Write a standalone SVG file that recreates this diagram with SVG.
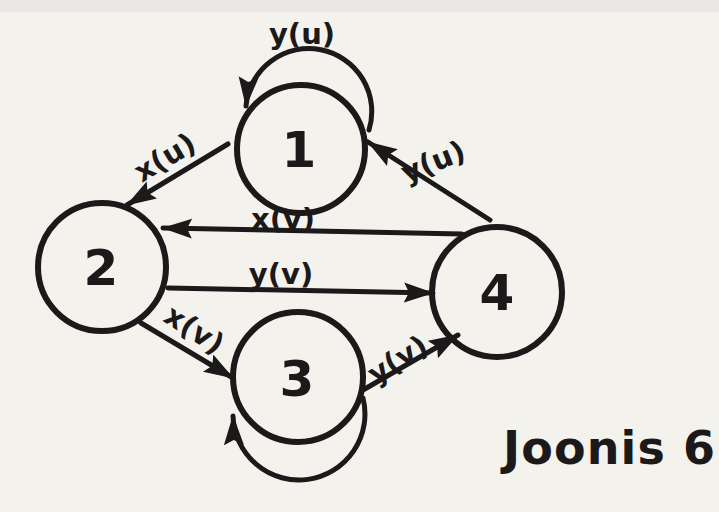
<svg xmlns="http://www.w3.org/2000/svg" width="719" height="512" viewBox="0 0 719 512">
<style>
.node{fill:none;stroke:#1b1919;stroke-width:6}
.edge{fill:none;stroke:#1b1919;stroke-width:5;stroke-linecap:round}
.num{font-family:"DejaVu Sans",sans-serif;font-weight:bold;font-size:50px;fill:#1b1919;text-anchor:middle}
.lbl{font-family:"DejaVu Sans",sans-serif;font-weight:bold;font-size:29px;fill:#1b1919;text-anchor:middle}
.cap{font-family:"DejaVu Sans",sans-serif;font-weight:bold;font-size:46px;fill:#1b1919}
</style>
<defs>
<marker id="ah" markerUnits="userSpaceOnUse" markerWidth="30" markerHeight="22" viewBox="0 0 30 22" refX="29" refY="11" orient="auto">
<path d="M0,1 L30,11 L0,21 L5,11 z" fill="#1b1919"/>
</marker>
</defs>
<rect x="0" y="0" width="719" height="512" fill="#f4f2ec"/>
<rect x="0" y="0" width="719" height="12" fill="#e9e8e5"/>
<g id="edges">
<path class="edge" d="M369 130 A63 63 0 1 0 246 106" marker-end="url(#ah)"/>
<path class="edge" d="M363 398 A66 66 0 1 1 233 416" marker-end="url(#ah)"/>
<path class="edge" d="M228 144 L127 205" marker-end="url(#ah)"/>
<path class="edge" d="M462 234 L163 228" marker-end="url(#ah)"/>
<path class="edge" d="M168 288 L433 293" marker-end="url(#ah)"/>
<path class="edge" d="M490 220 L368 142" marker-end="url(#ah)"/>
<path class="edge" d="M141 323 L233 378" marker-end="url(#ah)"/>
<path class="edge" d="M363 390 L458 335" marker-end="url(#ah)"/>
<text class="lbl" x="302" y="44">y(u)</text>
<text class="lbl" transform="translate(170,166) rotate(-31)">x(u)</text>
<text class="lbl" x="283" y="229">x(v)</text>
<text class="lbl" x="281" y="284">y(v)</text>
<text class="lbl" transform="translate(437,171) rotate(-22)">y(u)</text>
<text class="lbl" transform="translate(189,338) rotate(33)">x(v)</text>
<text class="lbl" transform="translate(403,368) rotate(-32)">y(v)</text>
</g>
<g id="node1"><circle class="node" cx="301" cy="149" r="64"/><text class="num" x="299" y="167">1</text></g>
<g id="node2"><circle class="node" cx="102" cy="267" r="64"/><text class="num" x="101" y="285">2</text></g>
<g id="node3"><circle class="node" cx="298" cy="377" r="65"/><text class="num" x="297" y="396">3</text></g>
<g id="node4"><circle class="node" cx="497" cy="292" r="65"/><text class="num" x="497" y="310">4</text></g>
<text class="cap" x="503" y="464" textLength="212" lengthAdjust="spacing">Joonis 6</text>
</svg>
